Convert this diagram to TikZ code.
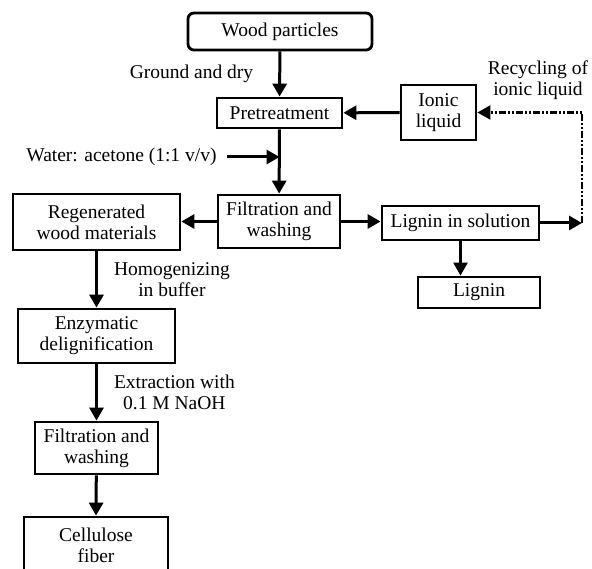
\documentclass[tikz,border=0pt]{standalone}
\usepackage{fontspec}
\setmainfont{Liberation Serif}
\usepackage{tikz}
\usetikzlibrary{arrows.meta, positioning}
\tikzset{
    flowchart/.style={>={Triangle[length=13pt, width=14pt]}, line width=3pt,
        font=\fontsize{19.5}{21}\selectfont},
    block/.style={draw, line width=2.8pt, align=center, inner sep=0pt},
    label/.style={align=center, inner sep=0pt},
    % dash-dot-dot line for the recycling loop
    recycle/.style={line width=2.2pt, dash pattern=on 7pt off 2pt on 2pt off 2pt on 2pt off 2pt},
}
\begin{document}
\begin{tikzpicture}[flowchart, x=1pt, y=-1pt]
    \useasboundingbox (0,0) rectangle (592,569);

    \node[block, rounded corners=6pt, minimum width=184pt, minimum height=37pt] (wood) at (280,31.5) {Wood particles};
    \node[block, minimum width=125pt, minimum height=30pt] (pretreat) at (279.5,113) {Pretreatment};
    \node[block, minimum width=75pt, minimum height=55pt] (ionic) at (438.5,112.5) {Ionic\\liquid};
    \node[block, minimum width=122pt, minimum height=53pt] (filtA) at (279,221.5) {Filtration and\\washing};
    \node[block, minimum width=157pt, minimum height=34pt] (solution) at (460.5,223) {Lignin in solution};
    \node[block, minimum width=122pt, minimum height=31pt] (lignin) at (479,292.5) {Lignin};
    \node[block, minimum width=167pt, minimum height=56pt] (regen) at (96.5,222) {Regenerated\\wood materials};
    \node[block, minimum width=157pt, minimum height=54pt] (enzyme) at (96.5,336) {Enzymatic\\delignification};
    \node[block, minimum width=123pt, minimum height=52pt] (filtB) at (96.5,448) {Filtration and\\washing};
    \node[block, minimum width=144pt, minimum height=70pt, text depth=14pt] (fiber) at (96,552) {Cellulose\\fiber};

    \node[label, anchor=east] (water) at (218,157) {Water: acetone (1:1 v/v)};
    \node[label] (recyclabel) at (538,80) {Recycling of\\ionic liquid};
    \coordinate (loop) at (582,223);

    \draw[->] (wood) -- node[label, left=25pt] {Ground and dry} (pretreat);
    \draw[->] (pretreat) -- (filtA);
    \draw[->] ([xshift=9pt]water.east) -- (water -| pretreat.south);
    \draw[->] (ionic) -- (pretreat);
    \draw[->] (filtA) -- (filtA -| regen.east);
    \draw[->] (filtA) -- (filtA -| solution.west);
    \draw[->, line width=2.4pt] (solution) -- (solution.south |- lignin.north);
    \draw[->] (solution) -- (loop);
    \draw[->, recycle] (loop) -- (loop |- ionic) -- (ionic);
    \draw[->] (regen) -- node[label, right=16pt] {Homogenizing\\in buffer} (enzyme);
    \draw[->] (enzyme) -- node[label, right=16pt] {Extraction with\\0.1 M NaOH} (filtB);
    \draw[->] (filtB) -- (fiber.north);
\end{tikzpicture}
\end{document}
